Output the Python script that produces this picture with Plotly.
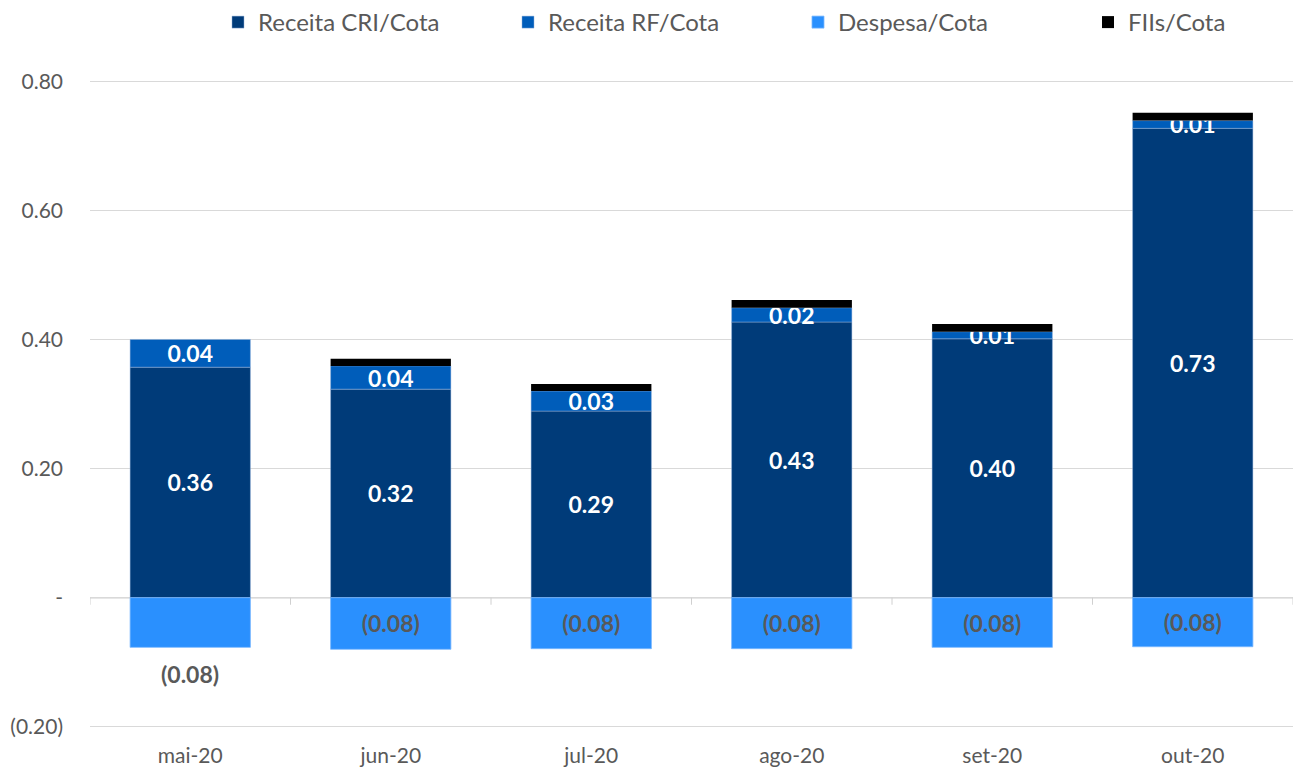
import plotly.graph_objects as go

# Dados (R$/cota)
meses = ["mai-20", "jun-20", "jul-20", "ago-20", "set-20", "out-20"]
receita_cri = [0.357, 0.323, 0.289, 0.427, 0.401, 0.727]
receita_rf = [0.043, 0.036, 0.031, 0.022, 0.011, 0.012]
despesa = [-0.077, -0.080, -0.079, -0.079, -0.077, -0.076]
fiis = [0.0, 0.011, 0.011, 0.012, 0.012, 0.012]

y_ticks = [-0.2, 0.0, 0.2, 0.4, 0.6, 0.8]
y_tick_labels = ["(0.20)", "-", "0.20", "0.40", "0.60", "0.80"]

FONT = "Lato, Calibri, Arial, sans-serif"
GRAY = "#595959"
SEP = {"color": "rgba(150,180,220,0.6)", "width": 0.8}


def fmt(v: float) -> str:
    return f"({abs(v):.2f})" if v < 0 else f"{v:.2f}"


# o rótulo de despesa do primeiro mês fica abaixo da barra (anotação)
despesa_txt = [""] + [fmt(v) for v in despesa[1:]]

fig = go.Figure()
fig.add_trace(go.Bar(
    x=meses, y=receita_cri, name="Receita CRI/Cota",
    marker={"color": "#003B79", "line": SEP},
    text=[fmt(v) for v in receita_cri], textposition="inside",
    insidetextanchor="middle", constraintext="none",
    textfont={"color": "white", "size": 23, "family": FONT, "weight": "bold"},
))
fig.add_trace(go.Bar(
    x=meses, y=receita_rf, name="Receita RF/Cota",
    marker={"color": "#005DBA", "line": SEP},
    text=[fmt(v) for v in receita_rf], textposition="inside",
    insidetextanchor="middle", constraintext="none",
    textfont={"color": "white", "size": 23, "family": FONT, "weight": "bold"},
))
fig.add_trace(go.Bar(
    x=meses, y=despesa, name="Despesa/Cota",
    marker={"color": "#2A90FE", "line": {"color": "#7ab8ff", "width": 0.8}},
    text=despesa_txt, textposition="inside",
    insidetextanchor="middle", constraintext="none",
    textfont={"color": GRAY, "size": 23, "family": FONT, "weight": "bold"},
))
fig.add_trace(go.Bar(
    x=meses, y=fiis, name="FIIs/Cota",
    marker={"color": "#000000", "line": {"width": 0}},
))

fig.add_annotation(
    x=meses[0], y=despesa[0], text=fmt(despesa[0]), showarrow=False,
    yanchor="middle", yshift=-27,
    font={"color": GRAY, "size": 23, "family": FONT, "weight": "bold"},
)

# eixo horizontal no zero com marcas entre categorias
fig.add_hline(y=0, line={"color": "#d0d0d0", "width": 1.5}, layer="below")
for i in range(len(meses) + 1):
    fig.add_shape(
        type="line", xref="x", yref="y",
        x0=i - 0.5, x1=i - 0.5, y0=0, y1=-0.011,
        line={"color": "#d0d0d0", "width": 1},
    )

fig.update_layout(
    width=1293, height=769,
    barmode="relative", bargap=0.4,
    margin={"l": 90, "r": 0, "t": 78, "b": 39, "autoexpand": False},
    paper_bgcolor="white", plot_bgcolor="white",
    font={"family": FONT, "color": GRAY, "size": 20},
    legend={
        "orientation": "h", "xref": "container", "x": 0.1686, "xanchor": "left",
        "y": 1.0, "yref": "container", "yanchor": "top",
        "font": {"size": 24, "color": GRAY}, "entrywidth": 245,
        "itemwidth": 30,
    },
    xaxis={
        "showgrid": False, "showline": False, "ticks": "",
        "tickfont": {"size": 21, "color": GRAY},
        "ticklabelstandoff": 11, "range": [-0.5, 5.5],
    },
    yaxis={
        "range": [-0.205, 0.805], "tickvals": y_ticks, "ticktext": y_tick_labels,
        "showgrid": True, "gridcolor": "#d9d9d9", "gridwidth": 1,
        "zeroline": False, "showline": False, "ticks": "",
        "tickfont": {"size": 21, "color": GRAY}, "ticklabelstandoff": 26,
    },
)

# remove a margem padrão do <body> para o gráfico ocupar a janela exata
fig.write_html(
    "out.html",
    config={"displayModeBar": False},
    post_script="document.body.style.margin='0';",
)
